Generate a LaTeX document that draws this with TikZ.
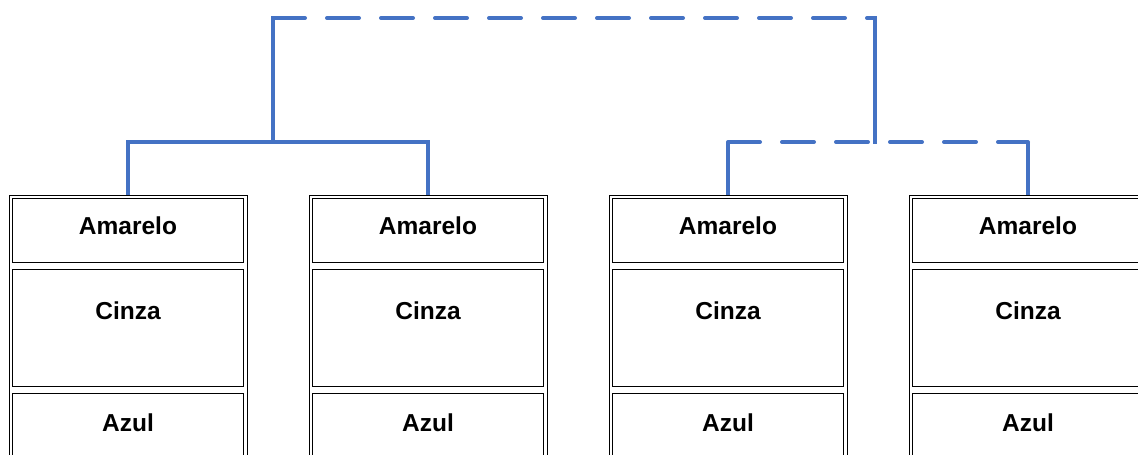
\documentclass[tikz,border=0pt]{standalone}
\usepackage{fontspec}
\setmainfont{Liberation Sans}
\usepackage{xcolor}
\definecolor{link-blue}{HTML}{4472C4}
\usepackage{tikz}
\usetikzlibrary{positioning}

\begin{document}
\begin{tikzpicture}[
    x=1pt, y=1pt,
    column/.style={
      rectangle,
      draw=black,
      line width=0.9pt,
      minimum width=238pt,
      minimum height=320pt,
      inner sep=0pt,
      anchor=north
    },
    cell/.style={
      rectangle,
      draw=black,
      line width=0.9pt,
      minimum width=231pt,
      inner sep=0pt
    },
    cell-text/.style={
      font=\bfseries\fontsize{24.5}{29}\selectfont,
      inner sep=0pt
    },
    link/.style={
      draw=link-blue,
      line width=4pt
    },
    link-dashed/.style={
      link,
      line cap=round,
      dash pattern=on 32pt off 22pt
    }
  ]
    \useasboundingbox (0,0) rectangle (1138,455);
    \begin{scope}
    \clip (0,0) rectangle (1138,455);

    % Table columns (cut off at the bottom)
    \node[column] (col1) at (128,260)  {};
    \node[column] (col2) at (428,260)  {};
    \node[column] (col3) at (728,260)  {};
    \node[column] (col4) at (1028,260) {};

    % Cells of each column
    \node[cell, minimum height=64pt,  below=3pt of col1.north] (am1) {};
    \node[cell, minimum height=117pt, below=6pt of am1]        (ci1) {};
    \node[cell, minimum height=117pt, below=6pt of ci1]        (az1) {};

    \node[cell, minimum height=64pt,  below=3pt of col2.north] (am2) {};
    \node[cell, minimum height=117pt, below=6pt of am2]        (ci2) {};
    \node[cell, minimum height=117pt, below=6pt of ci2]        (az2) {};

    \node[cell, minimum height=64pt,  below=3pt of col3.north] (am3) {};
    \node[cell, minimum height=117pt, below=6pt of am3]        (ci3) {};
    \node[cell, minimum height=117pt, below=6pt of ci3]        (az3) {};

    \node[cell, minimum height=64pt,  below=3pt of col4.north] (am4) {};
    \node[cell, minimum height=117pt, below=6pt of am4]        (ci4) {};
    \node[cell, minimum height=117pt, below=6pt of ci4]        (az4) {};

    % Cell texts
    \node[cell-text] (am1-text) at ([yshift=-28pt]am1.north) {Amarelo};
    \node[cell-text] (ci1-text) at ([yshift=-42pt]ci1.north) {Cinza};
    \node[cell-text] (az1-text) at ([yshift=-30pt]az1.north) {Azul};

    \node[cell-text] (am2-text) at ([yshift=-28pt]am2.north) {Amarelo};
    \node[cell-text] (ci2-text) at ([yshift=-42pt]ci2.north) {Cinza};
    \node[cell-text] (az2-text) at ([yshift=-30pt]az2.north) {Azul};

    \node[cell-text] (am3-text) at ([yshift=-28pt]am3.north) {Amarelo};
    \node[cell-text] (ci3-text) at ([yshift=-42pt]ci3.north) {Cinza};
    \node[cell-text] (az3-text) at ([yshift=-30pt]az3.north) {Azul};

    \node[cell-text] (am4-text) at ([yshift=-28pt]am4.north) {Amarelo};
    \node[cell-text] (ci4-text) at ([yshift=-42pt]ci4.north) {Cinza};
    \node[cell-text] (az4-text) at ([yshift=-30pt]az4.north) {Azul};
    \end{scope}

    % Junction points of the connectors
    \coordinate (fork-left)  at (273,313);
    \coordinate (top-left)   at (273,437);
    \coordinate (top-right)  at (875,437);
    \coordinate (fork-right) at (875,313);

    % Left pair, solid
    \draw[link] (col1.north) |- (col2.north |- fork-left) -- (col2.north);

    % Right pair, dashed bar on solid stems
    \draw[link] (col3.north) -- (col3.north |- fork-right);
    \draw[link] (col4.north) -- (col4.north |- fork-right);
    \draw[link-dashed] (col3.north |- fork-right) -- (col4.north |- fork-right);

    % Top link between the two pairs
    \draw[link, line cap=rect] (fork-left) -- (top-left);
    \draw[link-dashed] (top-left) -- (top-right);
    \draw[link, line cap=rect] (top-right) -- (fork-right);
  \end{tikzpicture}
\end{document}
